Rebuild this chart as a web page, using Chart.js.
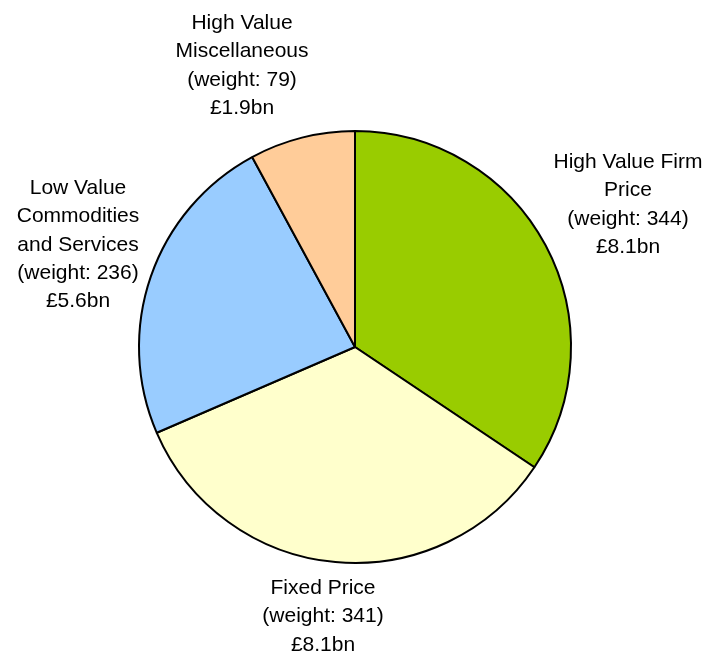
<!DOCTYPE html>
<html>
<head>
<meta charset="utf-8">
<script src="https://cdn.jsdelivr.net/npm/chart.js@4/dist/chart.umd.min.js"></script>
<style>
  html, body { margin: 0; padding: 0; background: #ffffff; }
  #wrap { width: 707px; height: 657px; }
</style>
</head>
<body>
<div id="wrap"><canvas id="c" width="707" height="657"></canvas></div>
<script>
// ---- data ----
const categories = ['High Value Firm Price', 'Fixed Price', 'Low Value Commodities and Services', 'High Value Miscellaneous'];
const nameLines = [['High Value Firm', 'Price'], ['Fixed Price'], ['Low Value', 'Commodities', 'and Services'], ['High Value', 'Miscellaneous']];
const weights = [344, 341, 236, 79];
const spendBn = [8.1, 8.1, 5.6, 1.9];
const colors = ['#99CC00', '#FFFFCC', '#99CCFF', '#FFCC99'];

// label layout (centre x, first baseline y)
const labelAnchors = [
  { x: 628, y: 168 },
  { x: 323, y: 594 },
  { x: 78, y: 194 },
  { x: 242, y: 29 }
];

const labelPlugin = {
  id: 'sliceLabels',
  afterDraw(chart) {
    const ctx = chart.ctx;
    const meta = chart.getDatasetMeta(0);
    ctx.save();
    ctx.font = '21px "Liberation Sans", Arial, sans-serif';
    ctx.fillStyle = '#000000';
    ctx.textAlign = 'center';
    ctx.textBaseline = 'alphabetic';
    const lh = 28.3;
    meta.data.forEach((arc, i) => {
      const lines = [...nameLines[i], '(weight: ' + weights[i] + ')', '£' + spendBn[i].toFixed(1) + 'bn'];
      const a = labelAnchors[i];
      lines.forEach((t, j) => ctx.fillText(t, a.x, a.y + j * lh));
    });
    ctx.restore();
  }
};

new Chart(document.getElementById('c'), {
  type: 'pie',
  data: {
    labels: categories,
    datasets: [{
      data: weights,
      backgroundColor: colors,
      borderColor: '#000000',
      borderWidth: 2,
      radius: 216
    }]
  },
  options: {
    responsive: false,
    animation: false,
    layout: { padding: { left: 3, right: 0, top: 37, bottom: 0 } },
    plugins: {
      legend: { display: false },
      tooltip: { enabled: false }
    }
  },
  plugins: [labelPlugin]
});
</script>
</body>
</html>
